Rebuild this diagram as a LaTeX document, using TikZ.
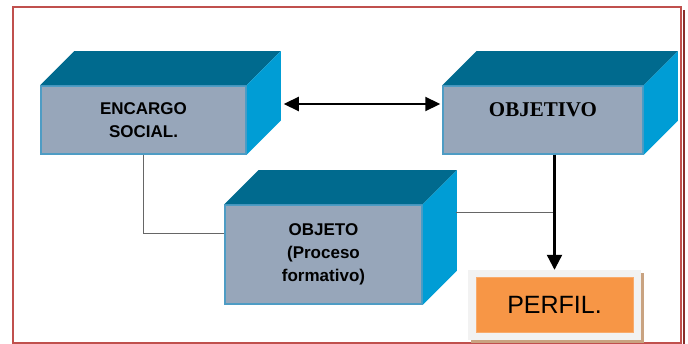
\documentclass[tikz,border=0pt]{standalone}
\usepackage{fontspec}
\setmainfont{Liberation Sans}
\newfontfamily\timesfont{Liberation Serif}
\usetikzlibrary{arrows.meta,calc}

\definecolor{framered}{HTML}{C0504D}
\definecolor{frameshadow}{HTML}{8B2E2C}
\definecolor{topteal}{HTML}{006A8E}
\definecolor{sideblue}{HTML}{009DD5}
\definecolor{frontgray}{HTML}{97A6BA}
\definecolor{frontedge}{HTML}{4E9CC4}
\definecolor{perfilorange}{HTML}{F79646}
\definecolor{perfilpaper}{HTML}{F2F2F2}
\definecolor{perfilshadow}{HTML}{C9A381}

% top and right faces of a box node
\newcommand{\boxsides}[1]{%
    \fill[topteal] (#1.north west) -- ([shift={(34,-34)}]#1.north west)
        -- ([shift={(34,-34)}]#1.north east) -- (#1.north east) -- cycle;
    \fill[sideblue] (#1.north east) -- ([shift={(34,-34)}]#1.north east)
        -- ([shift={(34,-34)}]#1.south east) -- (#1.south east) -- cycle;
}

\begin{document}
\begin{tikzpicture}[x=1pt, y=-1pt,
    crate/.style={rectangle, draw=frontedge, line width=1.5pt, fill=frontgray, align=center,
        inner sep=0pt, font=\bfseries\fontsize{17}{23}\selectfont},
    link/.style={draw=black!60, line width=1pt},
    arrow/.style={{Triangle[length=15pt,width=14pt]}-{Triangle[length=15pt,width=14pt]}, line width=2.2pt},
    downarrow/.style={-{Triangle[length=15pt,width=15pt]}, line width=2.2pt}
]
    \useasboundingbox (0,0) rectangle (688,344);
    \draw[frameshadow, line width=2pt] (683.5,10) -- (683.5,344);
    \draw[framered, line width=1.5pt] (13,7) rectangle (681,343);

    \node[crate, minimum width=205pt, minimum height=68pt] (encargo) at (143.5,120) {ENCARGO\\SOCIAL.};
    \boxsides{encargo}
    \node[crate, minimum width=200pt, minimum height=68pt, font=\timesfont\bfseries\fontsize{21}{21}\selectfont]
        (objetivo) at (543,120) {OBJETIVO\\\phantom{O}};
    \boxsides{objetivo}
    \node[crate, minimum width=197pt, minimum height=99pt] (objeto) at (323.5,254.5) {OBJETO\\(Proceso\\formativo)};
    \boxsides{objeto}

    \fill[perfilshadow] (471,273) rectangle (644,343);
    \node[fill=perfilpaper, minimum width=173pt, minimum height=70pt, inner sep=0pt] (perfilframe) at (554.5,305) {};
    \node[fill=perfilorange, draw=perfilorange!80!white, minimum width=157pt, minimum height=55pt,
        inner sep=0pt, font=\fontsize{25}{25}\selectfont] (perfil) at (554.5,304.5) {PERFIL.};

    \coordinate (objetojoin) at ($(objeto.north east)+(33,8)$);
    \draw[link] (encargo.south) |- ([yshift=21pt]objeto.west);
    \draw[link] (objetojoin) -- (objetojoin -| perfil);
    \draw[arrow] ($(encargo.east)+(37,-16)$) -- ($(objetivo.west)+(-2,-16)$);
    \draw[downarrow] (objetivo.south -| perfil) -- (perfilframe.north);
\end{tikzpicture}
\end{document}
